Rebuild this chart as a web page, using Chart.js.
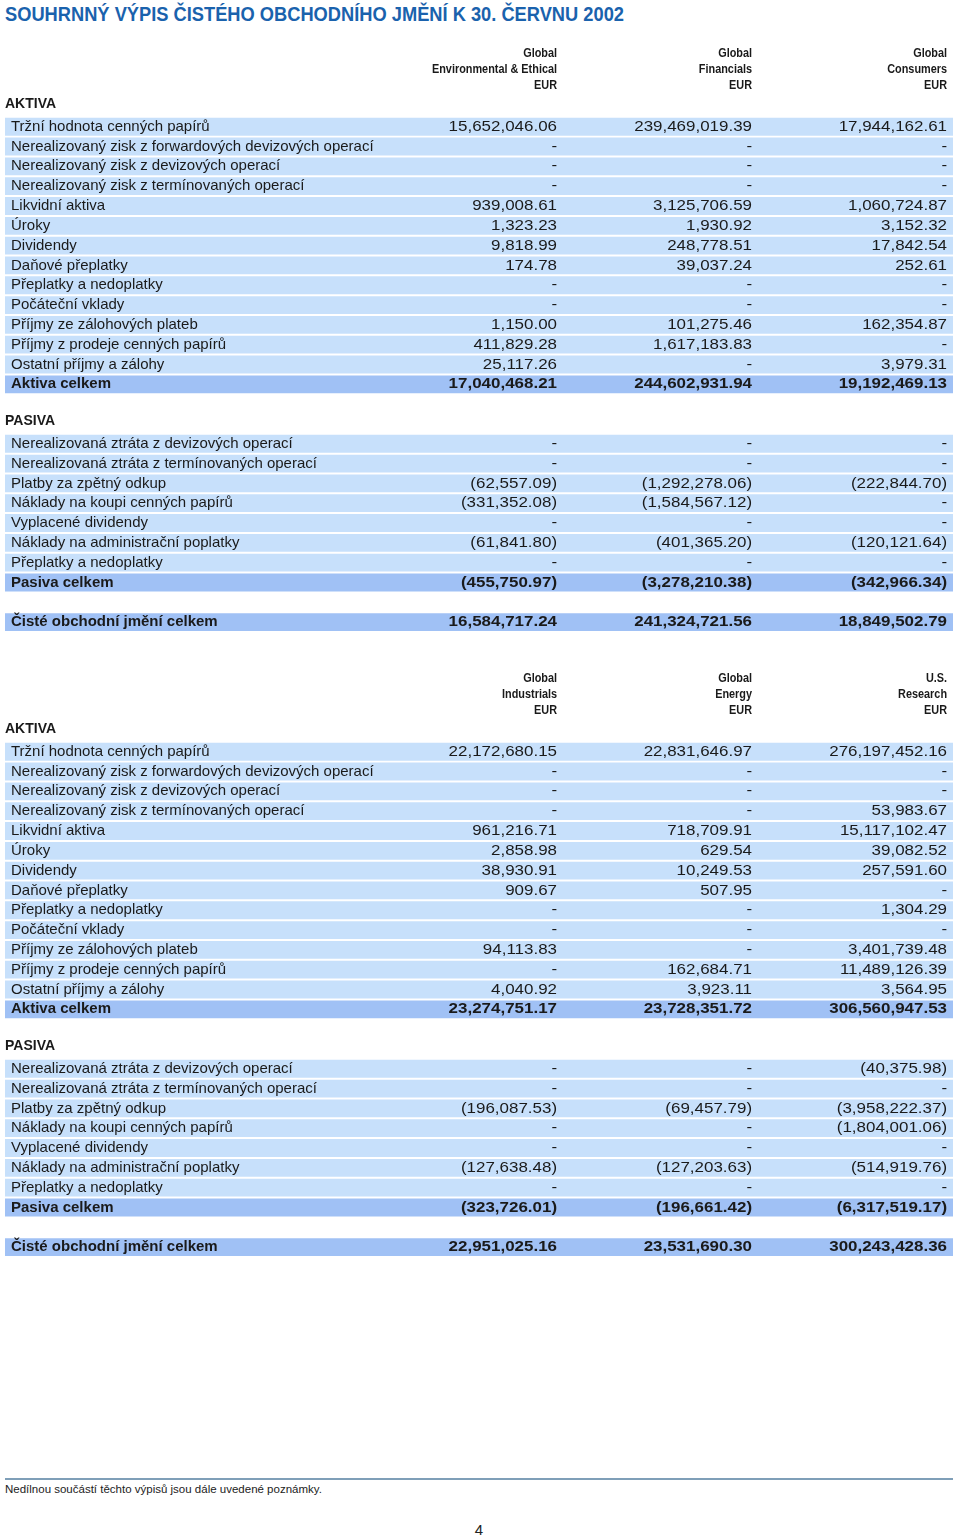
<!DOCTYPE html>
<html>
<head>
<meta charset="utf-8">
<script src="https://cdn.jsdelivr.net/npm/chart.js@4.4.0/dist/chart.umd.min.js"></script>
<style>
body { margin: 0; background: #fff; width: 960px; height: 1537px; position: relative; overflow: hidden; font-family: 'Liberation Sans', Arial, sans-serif; }
#title { position: absolute; left: 5px; top: 2px; font: bold 21px 'Liberation Sans', sans-serif; color: #1a62ad; white-space: nowrap; transform: scaleX(0.87); transform-origin: left center; }
canvas { position: absolute; left: 5px; }
#rule { position: absolute; left: 5px; top: 1478px; width: 948px; height: 2px; background: #7f9fb8; }
#note { position: absolute; left: 5px; top: 1483px; font-size: 11.5px; color: #222; }
#page { position: absolute; left: 0; width: 958px; top: 1521px; text-align: center; font-size: 15px; color: #222; }
</style>
</head>
<body>
<div id="title">SOUHRNNÝ VÝPIS ČISTÉHO OBCHODNÍHO JMĚNÍ K 30. ČERVNU 2002</div>
<canvas id="tableA" width="948" height="595" style="top:37px"></canvas>
<canvas id="tableB" width="948" height="595" style="top:662px"></canvas>
<div id="rule"></div>
<div id="note">Nedílnou součástí těchto výpisů jsou dále uvedené poznámky.</div>
<div id="page">4</div>
<script>
// Row labels
const assetLabels = [
    'Tržní hodnota cenných papírů',
    'Nerealizovaný zisk z forwardových devizových operací',
    'Nerealizovaný zisk z devizových operací',
    'Nerealizovaný zisk z termínovaných operací',
    'Likvidní aktiva',
    'Úroky',
    'Dividendy',
    'Daňové přeplatky',
    'Přeplatky a nedoplatky',
    'Počáteční vklady',
    'Příjmy ze zálohových plateb',
    'Příjmy z prodeje cenných papírů',
    'Ostatní příjmy a zálohy'
];
const liabLabels = [
    'Nerealizovaná ztráta z devizových operací',
    'Nerealizovaná ztráta z termínovaných operací',
    'Platby za zpětný odkup',
    'Náklady na koupi cenných papírů',
    'Vyplacené dividendy',
    'Náklady na administrační poplatky',
    'Přeplatky a nedoplatky'
];

// Column headers
const headersA = [['Global', 'Environmental & Ethical', 'EUR'], ['Global', 'Financials', 'EUR'], ['Global', 'Consumers', 'EUR']];
const headersB = [['Global', 'Industrials', 'EUR'], ['Global', 'Energy', 'EUR'], ['U.S.', 'Research', 'EUR']];

// Values (null = "-", negative = shown in brackets)
const envAssets = [15652046.06, null, null, null, 939008.61, 1323.23, 9818.99, 174.78, null, null, 1150.00, 411829.28, 25117.26];
const envLiabs = [null, null, -62557.09, -331352.08, null, -61841.80, null];
const finAssets = [239469019.39, null, null, null, 3125706.59, 1930.92, 248778.51, 39037.24, null, null, 101275.46, 1617183.83, null];
const finLiabs = [null, null, -1292278.06, -1584567.12, null, -401365.20, null];
const conAssets = [17944162.61, null, null, null, 1060724.87, 3152.32, 17842.54, 252.61, null, null, 162354.87, null, 3979.31];
const conLiabs = [null, null, -222844.70, null, null, -120121.64, null];

const indAssets = [22172680.15, null, null, null, 961216.71, 2858.98, 38930.91, 909.67, null, null, 94113.83, null, 4040.92];
const indLiabs = [null, null, -196087.53, null, null, -127638.48, null];
const engAssets = [22831646.97, null, null, null, 718709.91, 629.54, 10249.53, 507.95, null, null, null, 162684.71, 3923.11];
const engLiabs = [null, null, -69457.79, null, null, -127203.63, null];
const resAssets = [276197452.16, null, null, 53983.67, 15117102.47, 39082.52, 257591.60, null, 1304.29, null, 3401739.48, 11489126.39, 3564.95];
const resLiabs = [-40375.98, null, -3958222.37, -1804001.06, null, -514919.76, null];

const assetTotalsA = [17040468.21, 244602931.94, 19192469.13];
const liabTotalsA = [-455750.97, -3278210.38, -342966.34];
const netTotalsA = [16584717.24, 241324721.56, 18849502.79];
const assetTotalsB = [23274751.17, 23728351.72, 306560947.53];
const liabTotalsB = [-323726.01, -196661.42, -6317519.17];
const netTotalsB = [22951025.16, 23531690.30, 300243428.36];

// layout (fractions of the table width)
const labelPos = 0.0063;
const colPos = [0.5823, 0.788, 0.9937];

function fmt(v) {
    if (v === null) return '-';
    const s = Math.abs(v).toLocaleString('en-US', { minimumFractionDigits: 2, maximumFractionDigits: 2 });
    return v < 0 ? '(' + s + ')' : s;
}

function buildRows(assetCols, liabCols, aTot, lTot, nTot) {
    const rows = [{ label: 'AKTIVA', kind: 'section' }];
    assetLabels.forEach((l, i) => rows.push({ label: l, kind: 'row', values: assetCols.map(c => c[i]) }));
    rows.push({ label: 'Aktiva celkem', kind: 'total', values: aTot });
    rows.push({ label: '', kind: 'blank' });
    rows.push({ label: 'PASIVA', kind: 'section' });
    liabLabels.forEach((l, i) => rows.push({ label: l, kind: 'row', values: liabCols.map(c => c[i]) }));
    rows.push({ label: 'Pasiva celkem', kind: 'total', values: lTot });
    rows.push({ label: ' ', kind: 'blank' });
    rows.push({ label: 'Čisté obchodní jmění celkem', kind: 'total', values: nTot });
    return rows;
}

// right aligned text squeezed or stretched horizontally
function textRight(ctx, str, x, y, sx) {
    ctx.save();
    ctx.translate(x, y);
    ctx.scale(sx, 1);
    ctx.textAlign = 'right';
    ctx.fillText(str, 0, 0);
    ctx.restore();
}

const textPlugin = {
    id: 'tableText',
    afterDatasetsDraw(chart, args, opts) {
        const ctx = chart.ctx;
        const xs = chart.scales.x;
        const ys = chart.scales.y;
        const rows = opts.rows;
        ctx.save();
        ctx.textBaseline = 'middle';
        ctx.fillStyle = '#1a1a1a';

        // column headers
        ctx.font = "bold 12.5px 'Liberation Sans', sans-serif";
        opts.headers.forEach((h, j) => {
            h.forEach((line, k) => {
                textRight(ctx, line, xs.getPixelForValue(colPos[j]), chart.chartArea.top - 43 + 16 * k, 0.87);
            });
        });

        rows.forEach((r, i) => {
            const py = ys.getPixelForValue(i);
            if (r.kind === 'section') {
                ctx.font = "bold 14px 'Liberation Sans', sans-serif";
                ctx.textAlign = 'left';
                ctx.fillText(r.label, xs.getPixelForValue(0), py - 3);
                return;
            }
            if (r.kind === 'blank') return;
            ctx.font = r.kind === 'total' ? "bold 15px 'Liberation Sans', sans-serif" : "15px 'Liberation Sans', sans-serif";
            ctx.textAlign = 'left';
            ctx.fillText(r.label, xs.getPixelForValue(labelPos), py);
            r.values.forEach((v, j) => {
                textRight(ctx, fmt(v), xs.getPixelForValue(colPos[j]), py, 1.13);
            });
        });
        ctx.restore();
    }
};

function makeTable(id, rows, headers) {
    new Chart(document.getElementById(id), {
        type: 'bar',
        data: {
            labels: rows.map(r => r.label),
            datasets: [{
                data: rows.map(r => (r.kind === 'row' || r.kind === 'total') ? [0, 1] : null),
                backgroundColor: rows.map(r => r.kind === 'total' ? '#a0c1f5' : '#c7e0fb'),
                borderWidth: 0,
                barPercentage: 0.9,
                categoryPercentage: 1
            }]
        },
        options: {
            indexAxis: 'y',
            responsive: false,
            animation: false,
            events: [],
            layout: {
                padding: { top: 60, left: 0, right: 0, bottom: 0 }
            },
            plugins: {
                legend: { display: false },
                tooltip: { enabled: false },
                tableText: { rows: rows, headers: headers }
            },
            scales: {
                x: { display: false, min: 0, max: 1 },
                y: { display: false }
            }
        },
        plugins: [textPlugin]
    });
}

makeTable('tableA', buildRows([envAssets, finAssets, conAssets], [envLiabs, finLiabs, conLiabs], assetTotalsA, liabTotalsA, netTotalsA), headersA);
makeTable('tableB', buildRows([indAssets, engAssets, resAssets], [indLiabs, engLiabs, resLiabs], assetTotalsB, liabTotalsB, netTotalsB), headersB);
</script>
</body>
</html>
